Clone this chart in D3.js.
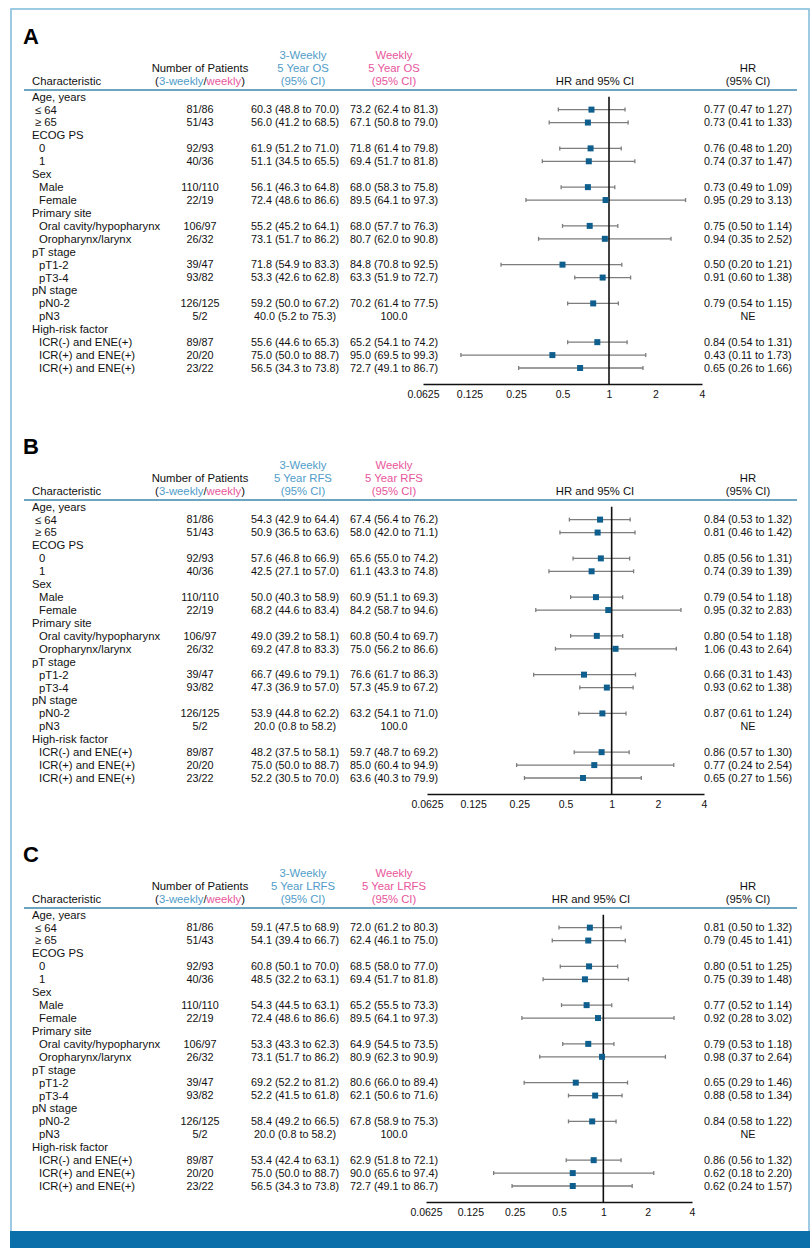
<!DOCTYPE html>
<html>
<head>
<meta charset="utf-8">
<script src="https://cdn.jsdelivr.net/npm/d3@7.9.0/dist/d3.min.js"></script>
<style>
  body { margin: 0; background: #fff; }
  svg { display: block; font-family: "Liberation Sans", Arial, sans-serif; }
</style>
</head>
<body>
<div id="chart"></div>
<script>
// ---- data ----
const groupNames = ['Age, years', 'ECOG PS', 'Sex', 'Primary site', 'pT stage', 'pN stage', 'High-risk factor'];
const subgroupNames = [
  ['≤ 64', '≥ 65'],
  ['0', '1'],
  ['Male', 'Female'],
  ['Oral cavity/hypopharynx', 'Oropharynx/larynx'],
  ['pT1-2', 'pT3-4'],
  ['pN0-2', 'pN3'],
  ['ICR(-) and ENE(+)', 'ICR(+) and ENE(+)', 'ICR(+) and ENE(+)']
];
const patients = ['81/86', '51/43', '92/93', '40/36', '110/110', '22/19', '106/97', '26/32',
  '39/47', '93/82', '126/125', '5/2', '89/87', '20/20', '23/22'];

// 5-year OS
const osThreeWeekly = [[60.3, 48.8, 70.0], [56.0, 41.2, 68.5], [61.9, 51.2, 71.0], [51.1, 34.5, 65.5],
  [56.1, 46.3, 64.8], [72.4, 48.6, 86.6], [55.2, 45.2, 64.1], [73.1, 51.7, 86.2], [71.8, 54.9, 83.3],
  [53.3, 42.6, 62.8], [59.2, 50.0, 67.2], [40.0, 5.2, 75.3], [55.6, 44.6, 65.3], [75.0, 50.0, 88.7],
  [56.5, 34.3, 73.8]];
const osWeekly = [[73.2, 62.4, 81.3], [67.1, 50.8, 79.0], [71.8, 61.4, 79.8], [69.4, 51.7, 81.8],
  [68.0, 58.3, 75.8], [89.5, 64.1, 97.3], [68.0, 57.7, 76.3], [80.7, 62.0, 90.8], [84.8, 70.8, 92.5],
  [63.3, 51.9, 72.7], [70.2, 61.4, 77.5], [100.0], [65.2, 54.1, 74.2], [95.0, 69.5, 99.3],
  [72.7, 49.1, 86.7]];
const osHR = [[0.77, 0.47, 1.27], [0.73, 0.41, 1.33], [0.76, 0.48, 1.20], [0.74, 0.37, 1.47],
  [0.73, 0.49, 1.09], [0.95, 0.29, 3.13], [0.75, 0.50, 1.14], [0.94, 0.35, 2.52], [0.50, 0.20, 1.21],
  [0.91, 0.60, 1.38], [0.79, 0.54, 1.15], null, [0.84, 0.54, 1.31], [0.43, 0.11, 1.73],
  [0.65, 0.26, 1.66]];

// 5-year RFS
const rfsThreeWeekly = [[54.3, 42.9, 64.4], [50.9, 36.5, 63.6], [57.6, 46.8, 66.9], [42.5, 27.1, 57.0],
  [50.0, 40.3, 58.9], [68.2, 44.6, 83.4], [49.0, 39.2, 58.1], [69.2, 47.8, 83.3], [66.7, 49.6, 79.1],
  [47.3, 36.9, 57.0], [53.9, 44.8, 62.2], [20.0, 0.8, 58.2], [48.2, 37.5, 58.1], [75.0, 50.0, 88.7],
  [52.2, 30.5, 70.0]];
const rfsWeekly = [[67.4, 56.4, 76.2], [58.0, 42.0, 71.1], [65.6, 55.0, 74.2], [61.1, 43.3, 74.8],
  [60.9, 51.1, 69.3], [84.2, 58.7, 94.6], [60.8, 50.4, 69.7], [75.0, 56.2, 86.6], [76.6, 61.7, 86.3],
  [57.3, 45.9, 67.2], [63.2, 54.1, 71.0], [100.0], [59.7, 48.7, 69.2], [85.0, 60.4, 94.9],
  [63.6, 40.3, 79.9]];
const rfsHR = [[0.84, 0.53, 1.32], [0.81, 0.46, 1.42], [0.85, 0.56, 1.31], [0.74, 0.39, 1.39],
  [0.79, 0.54, 1.18], [0.95, 0.32, 2.83], [0.80, 0.54, 1.18], [1.06, 0.43, 2.64], [0.66, 0.31, 1.43],
  [0.93, 0.62, 1.38], [0.87, 0.61, 1.24], null, [0.86, 0.57, 1.30], [0.77, 0.24, 2.54],
  [0.65, 0.27, 1.56]];

// 5-year LRFS
const lrfsThreeWeekly = [[59.1, 47.5, 68.9], [54.1, 39.4, 66.7], [60.8, 50.1, 70.0], [48.5, 32.2, 63.1],
  [54.3, 44.5, 63.1], [72.4, 48.6, 86.6], [53.3, 43.3, 62.3], [73.1, 51.7, 86.2], [69.2, 52.2, 81.2],
  [52.2, 41.5, 61.8], [58.4, 49.2, 66.5], [20.0, 0.8, 58.2], [53.4, 42.4, 63.1], [75.0, 50.0, 88.7],
  [56.5, 34.3, 73.8]];
const lrfsWeekly = [[72.0, 61.2, 80.3], [62.4, 46.1, 75.0], [68.5, 58.0, 77.0], [69.4, 51.7, 81.8],
  [65.2, 55.5, 73.3], [89.5, 64.1, 97.3], [64.9, 54.5, 73.5], [80.9, 62.3, 90.9], [80.6, 66.0, 89.4],
  [62.1, 50.6, 71.6], [67.8, 58.9, 75.3], [100.0], [62.9, 51.8, 72.1], [90.0, 65.6, 97.4],
  [72.7, 49.1, 86.7]];
const lrfsHR = [[0.81, 0.50, 1.32], [0.79, 0.45, 1.41], [0.80, 0.51, 1.25], [0.75, 0.39, 1.48],
  [0.77, 0.52, 1.14], [0.92, 0.28, 3.02], [0.79, 0.53, 1.18], [0.98, 0.37, 2.64], [0.65, 0.29, 1.46],
  [0.88, 0.58, 1.34], [0.84, 0.58, 1.22], null, [0.86, 0.56, 1.32], [0.62, 0.18, 2.20],
  [0.62, 0.24, 1.57]];

const hrTicks = [0.0625, 0.125, 0.25, 0.5, 1, 2, 4];
const hrTickLabels = ['0.0625', '0.125', '0.25', '0.5', '1', '2', '4'];

const panels = [
  { letter: 'A', endpoint: 'OS', three: osThreeWeekly, weekly: osWeekly, hr: osHR },
  { letter: 'B', endpoint: 'RFS', three: rfsThreeWeekly, weekly: rfsWeekly, hr: rfsHR },
  { letter: 'C', endpoint: 'LRFS', three: lrfsThreeWeekly, weekly: lrfsWeekly, hr: lrfsHR }
];

// ---- layout ----
const width = 812, height = 1254;
const layout = [
  { dy: 0, x0: 423, x1: 702, hrHead: 595 },
  { dy: 410, x0: 427, x1: 704, hrHead: 595 },
  { dy: 818, x0: 426, x1: 692, hrHead: 591 }
];
const blue = '#4f9cc8', pink = '#e8559b', rule = '#3a87ab', mark = '#0f5f8e';
const fs = 11.3;   // labels, headers
const fsv = 10.8;  // numeric columns

// flatten rows: group header followed by its subgroups
const rows = [];
let k = 0;
groupNames.forEach((g, gi) => {
  rows.push({ type: 'group', label: g });
  subgroupNames[gi].forEach(s => rows.push({ type: 'item', label: s, i: k++ }));
});

const yScale = d3.scalePoint().domain(d3.range(rows.length)).range([96.7, 368]);

const fmtRate = d => d.length === 1 ? d[0].toFixed(1)
  : `${d[0].toFixed(1)} (${d[1].toFixed(1)} to ${d[2].toFixed(1)})`;
const fmtHR = d => d ? `${d[0].toFixed(2)} (${d[1].toFixed(2)} to ${d[2].toFixed(2)})` : 'NE';

const svg = d3.select('#chart').append('svg')
  .attr('width', width).attr('height', height)
  .attr('viewBox', `0 0 ${width} ${height}`);

// outer frame and bottom band
svg.append('rect').attr('x', 11).attr('y', 9).attr('width', 798).attr('height', 1223)
  .attr('fill', 'none').attr('stroke', '#86bddc').attr('stroke-width', 1.6);
svg.append('rect').attr('x', 10).attr('y', 1231).attr('width', 800).attr('height', 17)
  .attr('fill', '#0b6fa9');

function txt(g, x, y, s, anchor = 'start', color = '#111', size = fs, weight = 'normal') {
  return g.append('text').attr('x', x).attr('y', y).attr('dy', '0.35em')
    .attr('text-anchor', anchor).attr('fill', color)
    .attr('font-size', size).attr('font-weight', weight).text(s);
}

panels.forEach((p, pi) => {
  const L = layout[pi];
  const g = svg.append('g').attr('transform', `translate(0,${L.dy})`);
  const x = d3.scaleLog().base(2).domain([hrTicks[0], hrTicks[hrTicks.length - 1]]).range([L.x0, L.x1]);

  // panel letter
  g.append('text').attr('x', 23).attr('y', 44).attr('font-size', 22).attr('font-weight', 'bold')
    .attr('fill', '#000').text(p.letter);

  // headers
  txt(g, 32, 81, 'Characteristic');
  txt(g, 200, 68, 'Number of Patients', 'middle');
  const np = txt(g, 200, 81, '', 'middle');
  np.append('tspan').text('(');
  np.append('tspan').attr('fill', blue).text('3-weekly');
  np.append('tspan').text('/');
  np.append('tspan').attr('fill', pink).text('weekly');
  np.append('tspan').text(')');
  txt(g, 303, 55, '3-Weekly', 'middle', blue);
  txt(g, 303, 68, `5 Year ${p.endpoint}`, 'middle', blue);
  txt(g, 303, 81, '(95% CI)', 'middle', blue);
  txt(g, 394, 55, 'Weekly', 'middle', pink);
  txt(g, 394, 68, `5 Year ${p.endpoint}`, 'middle', pink);
  txt(g, 394, 81, '(95% CI)', 'middle', pink);
  txt(g, L.hrHead, 81, 'HR and 95% CI', 'middle');
  txt(g, 748, 68, 'HR', 'middle');
  txt(g, 748, 81, '(95% CI)', 'middle');

  g.append('line').attr('x1', 24).attr('x2', 797).attr('y1', 90).attr('y2', 90)
    .attr('stroke', rule).attr('stroke-width', 1.5);

  // table rows
  rows.forEach((r, ri) => {
    const y = yScale(ri);
    if (r.type === 'group') {
      txt(g, 32, y, r.label);
    } else {
      txt(g, /^[≤≥]/.test(r.label) ? 35 : 39, y, r.label);
      txt(g, 200, y, patients[r.i], 'middle', '#111', fsv);
      txt(g, 295, y, fmtRate(p.three[r.i]), 'middle', '#111', fsv);
      txt(g, 394, y, fmtRate(p.weekly[r.i]), 'middle', '#111', fsv);
      txt(g, 748, y, fmtHR(p.hr[r.i]), 'middle', '#111', fsv);
    }
  });

  // forest plot
  const items = rows.map((r, ri) => ({ ...r, y: yScale(ri) }))
    .filter(r => r.type === 'item' && p.hr[r.i]);

  const ci = g.append('g').attr('stroke', '#7d7d7d').attr('stroke-width', 1.3);
  ci.selectAll('line.ci').data(items).join('line').attr('class', 'ci')
    .attr('x1', d => x(p.hr[d.i][1])).attr('x2', d => x(p.hr[d.i][2]))
    .attr('y1', d => d.y).attr('y2', d => d.y);
  ci.selectAll('line.capl').data(items).join('line').attr('class', 'capl')
    .attr('x1', d => x(p.hr[d.i][1])).attr('x2', d => x(p.hr[d.i][1]))
    .attr('y1', d => d.y - 2).attr('y2', d => d.y + 2);
  ci.selectAll('line.capr').data(items).join('line').attr('class', 'capr')
    .attr('x1', d => x(p.hr[d.i][2])).attr('x2', d => x(p.hr[d.i][2]))
    .attr('y1', d => d.y - 2).attr('y2', d => d.y + 2);

  // reference line at HR = 1
  g.append('line').attr('x1', x(1)).attr('x2', x(1)).attr('y1', yScale(0)).attr('y2', 384)
    .attr('stroke', '#111').attr('stroke-width', 1.6);

  g.selectAll('rect.pt').data(items).join('rect').attr('class', 'pt')
    .attr('x', d => x(p.hr[d.i][0]) - 3).attr('y', d => d.y - 3)
    .attr('width', 6).attr('height', 6).attr('fill', mark);

  // axis
  const axis = d3.axisBottom(x).tickValues(hrTicks)
    .tickFormat((d, i) => hrTickLabels[i]).tickSize(0).tickPadding(7);
  const ax = g.append('g').attr('transform', 'translate(0,384)').call(axis);
  ax.select('.domain').attr('stroke', '#111').attr('stroke-width', 1.6);
  ax.selectAll('text').attr('font-size', 10.5).attr('fill', '#111')
    .attr('font-family', '"Liberation Sans", Arial, sans-serif');
});
</script>
</body>
</html>
